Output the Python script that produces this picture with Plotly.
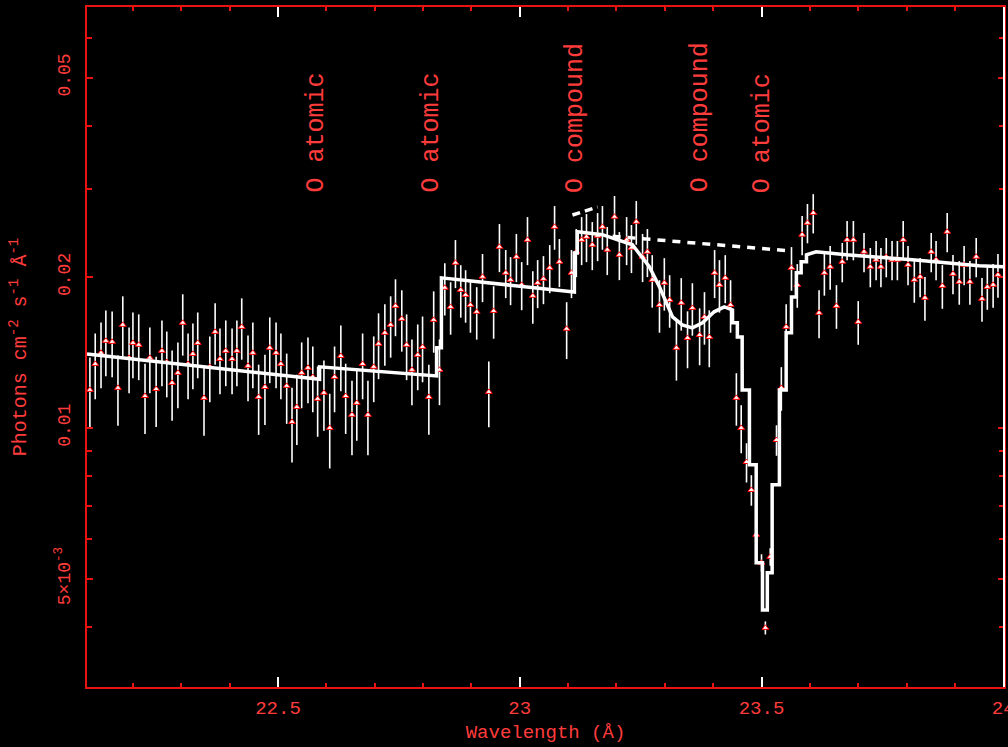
import numpy as np
import plotly.graph_objects as go

# ---------------- data ----------------
wave = [22.111, 22.122, 22.134, 22.144, 22.157, 22.169, 22.179, 22.192, 22.200, 22.212,
        22.225, 22.235, 22.248, 22.260, 22.270, 22.281, 22.293, 22.303, 22.314, 22.324,
        22.334, 22.347, 22.359, 22.370, 22.380, 22.392, 22.405, 22.415, 22.425, 22.438,
        22.448, 22.460, 22.473, 22.483, 22.496, 22.506, 22.518, 22.529, 22.539, 22.549,
        22.562, 22.572, 22.582, 22.595, 22.607, 22.617, 22.630, 22.640, 22.653, 22.663,
        22.675, 22.686, 22.698, 22.708, 22.721, 22.733, 22.743, 22.756, 22.766, 22.777,
        22.789, 22.799, 22.812, 22.822, 22.834, 22.845, 22.857, 22.867, 22.878, 22.888,
        22.898, 22.911, 22.923, 22.936, 22.946, 22.958, 22.971, 22.981, 22.993, 23.004,
        23.016, 23.027, 23.037, 23.049, 23.062, 23.072, 23.082, 23.097, 23.107, 23.117,
        23.128, 23.138, 23.150, 23.161, 23.171, 23.181, 23.196, 23.206, 23.221, 23.231,
        23.241, 23.254, 23.264, 23.274, 23.289, 23.299, 23.310, 23.324, 23.334, 23.347,
        23.357, 23.372, 23.382, 23.392, 23.403, 23.413, 23.425, 23.436, 23.448, 23.458,
        23.469, 23.479, 23.489, 23.500, 23.508, 23.518, 23.531, 23.541, 23.551, 23.562,
        23.574, 23.584, 23.595, 23.607, 23.619, 23.630, 23.642, 23.655, 23.667, 23.677,
        23.690, 23.700, 23.712, 23.725, 23.737, 23.747, 23.758, 23.770, 23.781, 23.793,
        23.803, 23.816, 23.828, 23.838, 23.851, 23.861, 23.874, 23.884, 23.896, 23.909,
        23.919, 23.931, 23.944, 23.956, 23.967, 23.979, 23.989]

flux = [0.01191, 0.01342, 0.01412, 0.01492, 0.01485, 0.01202, 0.01606, 0.01380, 0.01478, 0.01465,
        0.01158, 0.01380, 0.01196, 0.01425, 0.01354, 0.01230, 0.01288, 0.01621, 0.01342, 0.01405,
        0.01478, 0.01148, 0.01324, 0.01555, 0.01373, 0.01425, 0.01373, 0.01425, 0.01591, 0.01330,
        0.01412, 0.01153, 0.01207, 0.01445, 0.01412, 0.01342, 0.01213, 0.01028, 0.01101, 0.01288,
        0.01318, 0.01264, 0.01143, 0.01175, 0.01000, 0.01264, 0.01392, 0.01158, 0.01062, 0.01122,
        0.01342, 0.01062, 0.01324, 0.01472, 0.01548, 0.01606, 0.01752, 0.01651, 0.01465, 0.01306,
        0.01399, 0.01451, 0.01153, 0.01643, 0.01306, 0.01904, 0.01744, 0.02136, 0.01886, 0.01843,
        0.01760, 0.01705, 0.02003, 0.01180, 0.01712, 0.02299, 0.02040, 0.01975, 0.02196, 0.01930,
        0.02374, 0.01835, 0.01948, 0.01984, 0.02087, 0.02520, 0.02146, 0.01577, 0.02040, 0.02247,
        0.02374, 0.02407, 0.02320, 0.02418, 0.02520, 0.02268, 0.02639, 0.02216, 0.02374, 0.02289,
        0.02579, 0.02196, 0.02247, 0.01975, 0.01760, 0.01948, 0.01801, 0.01445, 0.01777, 0.01512,
        0.01736, 0.01533, 0.01666, 0.01519, 0.02040, 0.01930, 0.01993, 0.01760, 0.01148, 0.01000,
        0.00855, 0.00752, 0.00612, 0.00538, 0.00399, 0.00553, 0.00946, 0.01202, 0.01591, 0.02087,
        0.01930, 0.02430, 0.02567, 0.02686, 0.01697, 0.02040, 0.02097, 0.01752, 0.02146, 0.02374,
        0.02374, 0.01628, 0.02247, 0.02097, 0.02166, 0.02097, 0.02196, 0.02166, 0.02166, 0.02374,
        0.02116, 0.01975, 0.02003, 0.01818, 0.02247, 0.02166, 0.01921, 0.02463, 0.02030, 0.01957,
        0.02116, 0.01957, 0.02196, 0.01810, 0.01912, 0.01930, 0.02021]

rel_err = [0.16, 0.15, 0.15, 0.15, 0.15, 0.16, 0.14, 0.15, 0.15, 0.15,
           0.16, 0.15, 0.16, 0.15, 0.15, 0.16, 0.15, 0.14, 0.15, 0.15,
           0.15, 0.16, 0.15, 0.14, 0.15, 0.15, 0.15, 0.15, 0.14, 0.15,
           0.15, 0.16, 0.16, 0.15, 0.15, 0.15, 0.16, 0.17, 0.16, 0.15,
           0.15, 0.15, 0.16, 0.16, 0.17, 0.15, 0.15, 0.16, 0.17, 0.16,
           0.15, 0.17, 0.15, 0.15, 0.14, 0.14, 0.13, 0.14, 0.15, 0.15,
           0.15, 0.15, 0.16, 0.14, 0.15, 0.12, 0.12, 0.11, 0.12, 0.12,
           0.12, 0.12, 0.11, 0.15, 0.12, 0.11, 0.11, 0.11, 0.11, 0.11,
           0.11, 0.12, 0.11, 0.11, 0.11, 0.10, 0.11, 0.13, 0.11, 0.11,
           0.11, 0.11, 0.11, 0.11, 0.10, 0.11, 0.10, 0.11, 0.11, 0.11,
           0.10, 0.11, 0.11, 0.12, 0.12, 0.12, 0.12, 0.14, 0.12, 0.13,
           0.12, 0.13, 0.12, 0.13, 0.11, 0.12, 0.11, 0.12, 0.12, 0.11,
           0.09, 0.07, 0.05, 0.04, 0.03, 0.04, 0.07, 0.10, 0.11, 0.10,
           0.10, 0.09, 0.09, 0.09, 0.11, 0.10, 0.10, 0.10, 0.09, 0.09,
           0.09, 0.10, 0.09, 0.09, 0.09, 0.09, 0.09, 0.09, 0.09, 0.09,
           0.09, 0.10, 0.09, 0.10, 0.09, 0.09, 0.10, 0.09, 0.09, 0.10,
           0.09, 0.10, 0.09, 0.10, 0.10, 0.10, 0.10]

model_wave = [22.105, 22.586, 22.586, 22.828, 22.828, 22.838, 22.838, 23.113, 23.113, 23.119,
              23.119, 23.171, 23.233, 23.268, 23.289, 23.316, 23.336, 23.357, 23.378, 23.402,
              23.423, 23.440, 23.440, 23.450, 23.450, 23.460, 23.460, 23.475, 23.475, 23.489,
              23.489, 23.502, 23.502, 23.512, 23.512, 23.522, 23.522, 23.537, 23.537, 23.551,
              23.551, 23.562, 23.562, 23.572, 23.572, 23.582, 23.582, 23.593, 23.593, 23.613,
              23.675, 23.812, 23.950, 24.000]
model_flux = [0.01405, 0.01250, 0.01324, 0.01270, 0.01445, 0.01445, 0.01993, 0.01868, 0.02235, 0.02235,
              0.02463, 0.02430, 0.02320, 0.02097, 0.01912, 0.01666, 0.01606, 0.01584, 0.01621, 0.01705,
              0.01744, 0.01720, 0.01621, 0.01621, 0.01519, 0.01519, 0.01191, 0.01191, 0.00844, 0.00844,
              0.00538, 0.00538, 0.00433, 0.00433, 0.00514, 0.00514, 0.00770, 0.00770, 0.01191, 0.01191,
              0.01548, 0.01548, 0.01826, 0.01826, 0.02040, 0.02040, 0.02146, 0.02146, 0.02216, 0.02247,
              0.02216, 0.02166, 0.02106, 0.02097]

cont_wave = [23.192, 23.557]
cont_flux = [0.02413, 0.02257]
cont2_wave = [23.109, 23.161]
cont2_flux = [0.0266, 0.0276]

edge_wave = [22.580, 22.818, 23.115, 23.374, 23.502]
edge_label = ["O atomic", "O atomic", "O compound", "O compound", "O atomic"]
edge_label_flux = 0.0292

x_tickvals = [22.5, 23.0, 23.5, 24.0]
x_ticktext = ["22.5", "23", "23.5", "24"]
x_minorvals = [22.2, 22.3, 22.4, 22.6, 22.7, 22.8, 22.9, 23.1, 23.2, 23.3, 23.4,
               23.6, 23.7, 23.8, 23.9]
y_tickvals = [0.005, 0.01, 0.02, 0.05]
y_ticktext = ["5×10<sup>-3</sup>", "0.01", "0.02", "0.05"]
y_minorvals = [0.004, 0.006, 0.007, 0.008, 0.009, 0.03, 0.04, 0.06]

assert len(wave) == len(flux) == len(rel_err)
assert len(model_wave) == len(model_flux)

err = [f * r for f, r in zip(flux, rel_err)]

RED = "#e81414"
TXT = "#ff3c3c"
FONT = "Liberation Mono, Courier New, monospace"

fig = go.Figure()
fig.add_trace(go.Scatter(
    x=wave, y=flux, mode="markers",
    error_y=dict(type="data", array=err, color="white", thickness=1.6, width=0),
    marker=dict(symbol="triangle-up", size=6, color="white", line=dict(color="red", width=1)),
    showlegend=False, hoverinfo="skip"))
fig.add_trace(go.Scatter(
    x=model_wave, y=model_flux, mode="lines",
    line=dict(color="white", width=3.5), showlegend=False, hoverinfo="skip"))
fig.add_trace(go.Scatter(
    x=cont_wave, y=cont_flux, mode="lines",
    line=dict(color="white", width=3.5, dash="8px,7px"), showlegend=False, hoverinfo="skip"))
fig.add_trace(go.Scatter(
    x=cont2_wave, y=cont2_flux, mode="lines",
    line=dict(color="white", width=3.5, dash="8px,5px"), showlegend=False, hoverinfo="skip"))

for w, lab in zip(edge_wave, edge_label):
    fig.add_annotation(x=w, y=np.log10(edge_label_flux), xref="x", yref="y",
                       text=lab, textangle=-90, showarrow=False,
                       xanchor="center", yanchor="bottom",
                       font=dict(family=FONT, size=25, color=TXT))

fig.add_shape(type="line", xref="paper", yref="paper", x0=1, x1=1, y0=0, y1=1,
              line=dict(color="white", width=2))

fig.update_layout(
    width=1008, height=747,
    paper_bgcolor="black", plot_bgcolor="black",
    margin=dict(l=87, r=4, t=7, b=60),
    xaxis=dict(
        range=[22.105, 24.0015], showgrid=False, zeroline=False,
        showline=True, linecolor=RED, linewidth=2, mirror="ticks",
        tickmode="array", tickvals=x_tickvals, ticktext=x_ticktext,
        ticks="inside", ticklen=10, tickwidth=1.5, tickcolor="white",
        minor=dict(tickmode="array", tickvals=x_minorvals, ticks="inside",
                   ticklen=4, tickwidth=1.5, tickcolor=RED),
        tickfont=dict(family=FONT, size=19, color=TXT),
        ticklabelstandoff=2, ticklabeloverflow="allow",
        title=dict(text="Wavelength (Å)", font=dict(family=FONT, size=19, color=TXT), standoff=6),
        automargin=False,
    ),
    yaxis=dict(
        type="log", range=[np.log10(0.00304), np.log10(0.0692)],
        showgrid=False, zeroline=False,
        showline=True, linecolor=RED, linewidth=2, mirror="ticks",
        tickmode="array", tickvals=y_tickvals, ticktext=y_ticktext,
        ticks="inside", ticklen=6, tickwidth=1.5, tickcolor=RED,
        minor=dict(tickmode="array", tickvals=y_minorvals, ticks="inside",
                   ticklen=5, tickwidth=1.5, tickcolor=RED),
        tickangle=-90,
        tickfont=dict(family=FONT, size=18, color=TXT),
        ticklabelstandoff=8,
        title=dict(text="Photons cm<sup>-2</sup> s<sup>-1</sup> Å<sup>-1</sup>",
                   font=dict(family=FONT, size=20, color=TXT), standoff=20),
        automargin=False,
    ),
)

fig.write_html("out.html")
